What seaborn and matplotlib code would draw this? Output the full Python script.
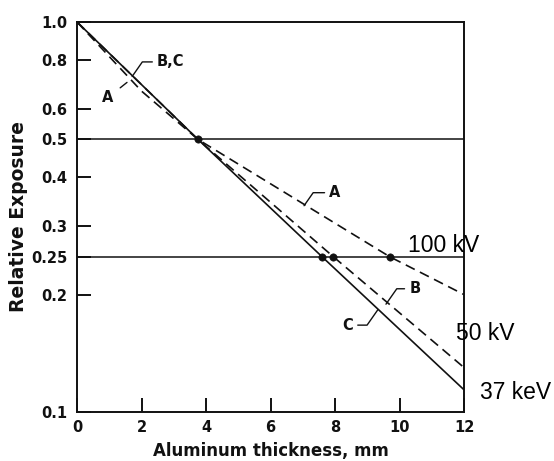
import numpy as np
import pandas as pd
import matplotlib.pyplot as plt
import seaborn as sns

# attenuation curves, relative exposure vs Al thickness (mm)
x_a = [0, 2, 3.75, 9.7, 12]
y_a = [1.0, 0.665, 0.5, 0.25, 0.2]
x_b = [0, 3.75, 7.95, 12]
y_b = [1.0, 0.5, 0.25, 0.13]
x_c = [0, 3.75, 7.6, 12]
y_c = [1.0, 0.5, 0.25, 0.114]

# half value layer markers
dot_x = [3.75, 7.6, 7.95, 9.7]
dot_y = [0.5, 0.25, 0.25, 0.25]
ref_levels = [0.5, 0.25]

x_ticks = [0, 2, 4, 6, 8, 10, 12]
y_ticks = [0.1, 0.2, 0.25, 0.3, 0.4, 0.5, 0.6, 0.8, 1.0]
y_ticklabels = ["0.1", "0.2", "0.25", "0.3", "0.4", "0.5", "0.6", "0.8", "1.0"]

sns.set_style("white")
plt.rcParams['font.family'] = ['DejaVu Sans']

fig = plt.figure(figsize=(5.54, 4.61), dpi=100)
ax = fig.add_axes([0.139, 0.1063, 0.6986, 0.846])

ink = "#111111"
sns.lineplot(x=x_c, y=y_c, ax=ax, color=ink, lw=1.2)
sns.lineplot(x=x_b, y=y_b, ax=ax, color=ink, lw=1.2, linestyle=(0, (6, 3.5)))
sns.lineplot(x=x_a, y=y_a, ax=ax, color=ink, lw=1.2, linestyle=(0, (6, 3.5)))
for lv in ref_levels:
    ax.axhline(lv, color=ink, lw=1.1)
sns.scatterplot(x=dot_x, y=dot_y, ax=ax, color=ink, s=28, zorder=5, edgecolor=ink)

ax.set_yscale("log")
ax.set_xlim(0, 12)
ax.set_ylim(0.1, 1.0)
ax.set_xticks(x_ticks)
ax.set_yticks(y_ticks)
ax.set_yticklabels(y_ticklabels)
ax.minorticks_off()
ax.tick_params(bottom=True, left=True, direction="in", length=10, width=1.4,
               color=ink, labelsize=10.5, labelcolor=ink)
ax.tick_params(axis="y", pad=7)
ax.tick_params(axis="x", pad=6)
for lab in ax.get_xticklabels() + ax.get_yticklabels():
    lab.set_fontweight("bold")
for s in ax.spines.values():
    s.set_color(ink)
    s.set_linewidth(1.4)

ax.set_xlabel("Aluminum thickness, mm", fontsize=12, color=ink, labelpad=4.5,
              fontweight="bold")
ax.set_ylabel("Relative Exposure", fontsize=13.5, color=ink, labelpad=2,
              fontweight="bold")

# curve labels with leader lines
lead = dict(arrowstyle="-", color=ink, lw=1.0, shrinkA=1, shrinkB=0,
            connectionstyle="angle,angleA=0,angleB=55,rad=0")
lbl = dict(fontsize=10.5, color=ink, va="center", fontweight="bold")
ax.annotate("B,C", xy=(1.71, 0.725), xytext=(2.48, 0.79), ha="left",
            arrowprops=lead, **lbl)
ax.annotate("A", xy=(1.55, 0.70), xytext=(0.96, 0.64), ha="center",
            arrowprops=dict(arrowstyle="-", color=ink, lw=1.0, shrinkA=3, shrinkB=0),
            **lbl)
ax.annotate("A", xy=(7.04, 0.338), xytext=(7.82, 0.365), ha="left",
            arrowprops=lead, **lbl)
ax.annotate("B", xy=(9.58, 0.189), xytext=(10.3, 0.207), ha="left",
            arrowprops=lead, **lbl)
ax.annotate("C", xy=(9.33, 0.183), xytext=(8.56, 0.167), ha="right",
            arrowprops=lead, **lbl)

# beam energy labels
fig.text(408 / 554, 1 - 245 / 461, "100 kV", fontsize=16.5, va="center",
         ha="left", family="Liberation Sans", color="black")
fig.text(456 / 554, 1 - 333 / 461, "50 kV", fontsize=16.5, va="center",
         ha="left", family="Liberation Sans", color="black")
fig.text(480 / 554, 1 - 392 / 461, "37 keV", fontsize=16.5, va="center",
         ha="left", family="Liberation Sans", color="black")

plt.savefig("out.png", dpi=100)
